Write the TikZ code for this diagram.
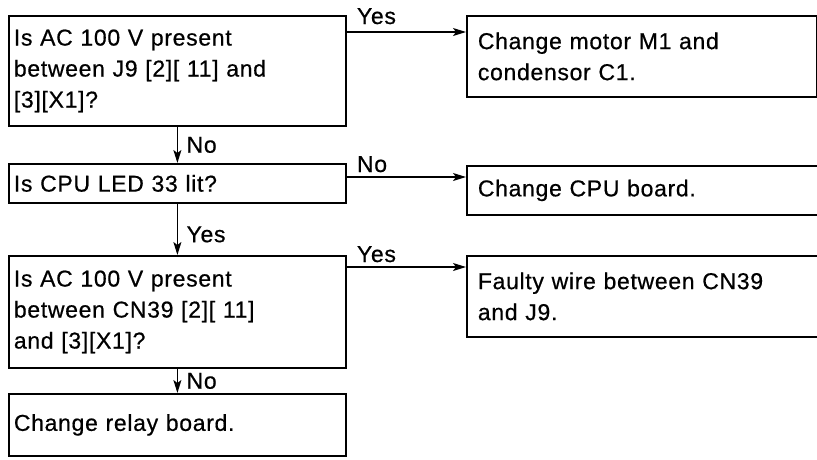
\documentclass[tikz,border=0pt]{standalone}
\usepackage{fontspec}
\setmainfont{Liberation Sans}[LetterSpace=3, FakeBold=0.6]
\usetikzlibrary{arrows.meta}
\usetikzlibrary{positioning}
\tikzset{>={Stealth[length=13pt,width=8pt,inset=3pt]}}
\newcommand\boxwd{1.8pt}
\newcommand\flowwd{1.4pt}
\newcommand\chartfont{\fontsize{23}{31}\selectfont}
\tikzstyle{question} = [draw, line width=\boxwd, anchor=north west, align=left,
  inner xsep=5pt, inner ysep=0pt, text width=327pt, font=\chartfont]
\tikzstyle{remedy}   = [draw, line width=\boxwd, anchor=north west, align=left,
  inner xsep=11pt, inner ysep=0pt, text width=332pt, font=\chartfont]
\tikzstyle{flow}     = [line width=\flowwd]
\tikzstyle{answer}   = [font=\chartfont, inner sep=0pt]

\begin{document}
\begin{tikzpicture}[x=1pt, y=-1pt]
  \useasboundingbox (0, 0) rectangle (817, 459);
  % questions down the left
  \draw (8, 15) node[question, minimum height=110pt] (acJ)
    {Is AC 100 V present\\between J9 [2][ 11] and\\{[3][X1]?}};
  \draw (8, 163) node[question, minimum height=39pt] (led) {Is CPU LED 33 lit?};
  \draw (8, 255) node[question, minimum height=112pt] (acCN)
    {Is AC 100 V present\\between CN39 [2][ 11]\\and [3][X1]?};
  \draw (8, 393) node[question, minimum height=62pt] (relay) {Change relay board.};
  % remedies on the right
  \draw (466, 15) node[remedy, text width=328pt, minimum height=81pt] (motor)
    {Change motor M1 and\\condensor C1.};
  \draw (466, 165) node[remedy, minimum height=49pt] (cpu) {Change CPU board.};
  \draw (466, 255) node[remedy, minimum height=81pt] (wire)
    {Faulty wire between CN39\\and J9.};
  % down the chain
  \draw (acJ) -- node[answer, right=9pt] {No} (led) [->, flow];
  \draw (led) -- node[answer, right=9pt, yshift=-5pt] {Yes} (acCN) [->, flow];
  \draw (acCN) -- node[answer, right=9pt] {No} (relay) [->, flow];
  % across to the remedies
  \draw ([yshift=-17pt]acJ.north east) -- ([yshift=-17pt]motor.north west)
    node[answer, pos=0, anchor=base west, xshift=10pt, yshift=8pt] {Yes} [->, flow];
  \draw ([yshift=-14pt]led.north east) -- ([yshift=-14pt]led.north east -| cpu.west)
    node[answer, pos=0, anchor=base west, xshift=10pt, yshift=5pt] {No} [->, flow];
  \draw ([yshift=-12pt]acCN.north east) -- ([yshift=-12pt]wire.north west)
    node[answer, pos=0, anchor=base west, xshift=10pt, yshift=5pt] {Yes} [->, flow];
\end{tikzpicture}
\end{document}
